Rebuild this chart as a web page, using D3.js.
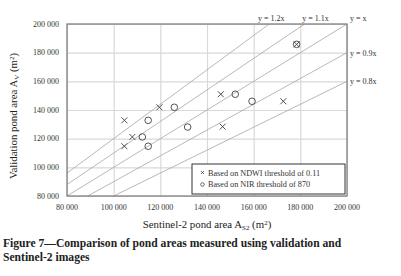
<!DOCTYPE html>
<html>
<head>
<meta charset="utf-8">
<script src="https://cdn.jsdelivr.net/npm/d3@7"></script>
<style>
  body { margin: 0; background: #fff; }
  svg { display: block; font-family: "Liberation Serif", "Times New Roman", serif; }
  .tick-label { font-size: 8px; fill: #333; }
  .ref-label { font-size: 8px; fill: #333; }
  .axis-title { font-size: 10.8px; fill: #222; }
  .caption { font-size: 11.6px; font-weight: bold; fill: #222; }
</style>
</head>
<body>
<div id="chart"></div>
<script>
// Data
const xTicks = [80000, 100000, 120000, 140000, 160000, 180000, 200000];
const yTicks = [80000, 100000, 120000, 140000, 160000, 180000, 200000];

// NDWI threshold 0.11 (crosses)
const ndwiX = [104600, 108000, 104600, 119600, 145900, 146700, 172700, 178400];
const ndwiY = [132800, 121200, 114700, 141900, 151000, 128400, 146100, 185800];

// NIR threshold 870 (circles)
const nirX = [114800, 112300, 114800, 126000, 131700, 152100, 159300, 178400];
const nirY = [132800, 121200, 114700, 141900, 128100, 151000, 146100, 185800];

// Reference lines y = k x
const refSlopes = [1.2, 1.1, 1.0, 0.9, 0.8];
const refLabels = ["y = 1.2x", "y = 1.1x", "y = x", "y = 0.9x", "y = 0.8x"];

const legendLabels = ["Based on NDWI threshold of 0.11", "Based on NIR threshold of 870"];

const width = 401, height = 276;
const margin = { top: 24, right: 54, bottom: 80, left: 67 };
const w = width - margin.left - margin.right;
const h = height - margin.top - margin.bottom;

const fmt = d3.formatLocale({ decimal: ".", thousands: " ", grouping: [3], currency: ["", ""] }).format(",");

const svg = d3.select("#chart").append("svg")
  .attr("width", width)
  .attr("height", height);

const g = svg.append("g")
  .attr("transform", `translate(${margin.left},${margin.top})`);

const x = d3.scaleLinear().domain([80000, 200000]).range([0, w]);
const y = d3.scaleLinear().domain([80000, 200000]).range([h, 0]);

// grid
g.append("g")
  .attr("transform", `translate(0,${h})`)
  .call(d3.axisBottom(x).tickValues(xTicks).tickSize(-h).tickFormat(""))
  .call(a => a.select(".domain").remove())
  .call(a => a.selectAll("line").attr("stroke", "#d9d9d9").attr("stroke-width", 1.2));

g.append("g")
  .call(d3.axisLeft(y).tickValues(yTicks).tickSize(-w).tickFormat(""))
  .call(a => a.select(".domain").remove())
  .call(a => a.selectAll("line").attr("stroke", "#d9d9d9").attr("stroke-width", 1.2));

// tick labels
g.selectAll(".xt").data(xTicks).enter().append("text")
  .attr("class", "tick-label")
  .attr("x", d => x(d))
  .attr("y", h + 14)
  .attr("text-anchor", "middle")
  .text(d => fmt(d));

g.selectAll(".yt").data(yTicks).enter().append("text")
  .attr("class", "tick-label")
  .attr("x", -8)
  .attr("y", d => y(d))
  .attr("dy", "0.33em")
  .attr("text-anchor", "end")
  .text(d => fmt(d));

// reference lines, clipped to plot
svg.append("defs").append("clipPath").attr("id", "plot-clip")
  .append("rect").attr("width", w).attr("height", h);

const refG = g.append("g").attr("clip-path", "url(#plot-clip)");
refG.selectAll("line").data(refSlopes).enter().append("line")
  .attr("x1", x(60000))
  .attr("y1", d => y(60000 * d))
  .attr("x2", x(220000))
  .attr("y2", d => y(220000 * d))
  .attr("stroke", "#a6a6a6")
  .attr("stroke-width", 0.8);

// reference labels: steep ones sit above the plot, shallow ones to the right
const labelShift = [2, 11, 0, 0, 0];
g.selectAll(".ref-label").data(refSlopes).enter().append("text")
  .attr("class", "ref-label")
  .attr("x", (d, i) => d > 1 ? x(200000 / d) + labelShift[i] : w + 3)
  .attr("y", d => d >= 1 ? -3 : y(200000 * d) + 3)
  .attr("text-anchor", d => d > 1 ? "middle" : "start")
  .text((d, i) => refLabels[i]);

// plot border
g.append("rect")
  .attr("width", w)
  .attr("height", h)
  .attr("fill", "none")
  .attr("stroke", "#808080")
  .attr("stroke-width", 1.3);

// markers
const s = 3;
g.append("g").selectAll("path").data(ndwiX).enter().append("path")
  .attr("d", (d, i) => {
    const cx = x(d), cy = y(ndwiY[i]);
    return `M${cx - s},${cy - s}L${cx + s},${cy + s}M${cx - s},${cy + s}L${cx + s},${cy - s}`;
  })
  .attr("stroke", "#404040")
  .attr("stroke-width", 0.9)
  .attr("fill", "none");

g.append("g").selectAll("circle").data(nirX).enter().append("circle")
  .attr("cx", d => x(d))
  .attr("cy", (d, i) => y(nirY[i]))
  .attr("r", 3.3)
  .attr("stroke", "#404040")
  .attr("stroke-width", 0.9)
  .attr("fill", "none");

// legend
const lg = g.append("g").attr("transform", `translate(${192 - margin.left},${164 - margin.top})`);
lg.append("rect")
  .attr("width", 153)
  .attr("height", 30)
  .attr("fill", "#fff")
  .attr("stroke", "#333")
  .attr("stroke-width", 1);

lg.append("path")
  .attr("d", "M9,7L12,10M9,10L12,7")
  .attr("stroke", "#333").attr("stroke-width", 0.7);
lg.append("circle")
  .attr("cx", 10.5).attr("cy", 20.5).attr("r", 1.8)
  .attr("fill", "none").attr("stroke", "#333").attr("stroke-width", 0.7);

lg.selectAll(".lt").data(legendLabels).enter().append("text")
  .attr("class", "tick-label")
  .attr("x", 16)
  .attr("y", (d, i) => 9 + i * 11.5)
  .attr("dy", "0.33em")
  .style("font-size", "8.2px")
  .text(d => d);

// axis titles
const xt = svg.append("text")
  .attr("class", "axis-title")
  .attr("x", margin.left + w / 2)
  .attr("y", 228)
  .attr("text-anchor", "middle");
xt.append("tspan").text("Sentinel-2 pond area A");
xt.append("tspan").attr("dy", 2).style("font-size", "7px").text("S2");
xt.append("tspan").attr("dy", -2).text(" (m");
xt.append("tspan").attr("dy", -3).style("font-size", "7px").text("2");
xt.append("tspan").attr("dy", 3).text(")");

const yt = svg.append("text")
  .attr("class", "axis-title")
  .attr("transform", `translate(17,${margin.top + h / 2 + 6}) rotate(-90)`)
  .attr("text-anchor", "middle");
yt.append("tspan").text("Validation pond area A");
yt.append("tspan").attr("dy", 2).style("font-size", "7px").text("V");
yt.append("tspan").attr("dy", -2).text(" (m");
yt.append("tspan").attr("dy", -3).style("font-size", "7px").text("2");
yt.append("tspan").attr("dy", 3).text(")");

// caption
svg.append("text").attr("class", "caption")
  .attr("x", 3).attr("y", 247)
  .text("Figure 7\u2014Comparison of pond areas measured using validation and");
svg.append("text").attr("class", "caption")
  .attr("x", 3).attr("y", 261)
  .text("Sentinel-2 images");
</script>
</body>
</html>
